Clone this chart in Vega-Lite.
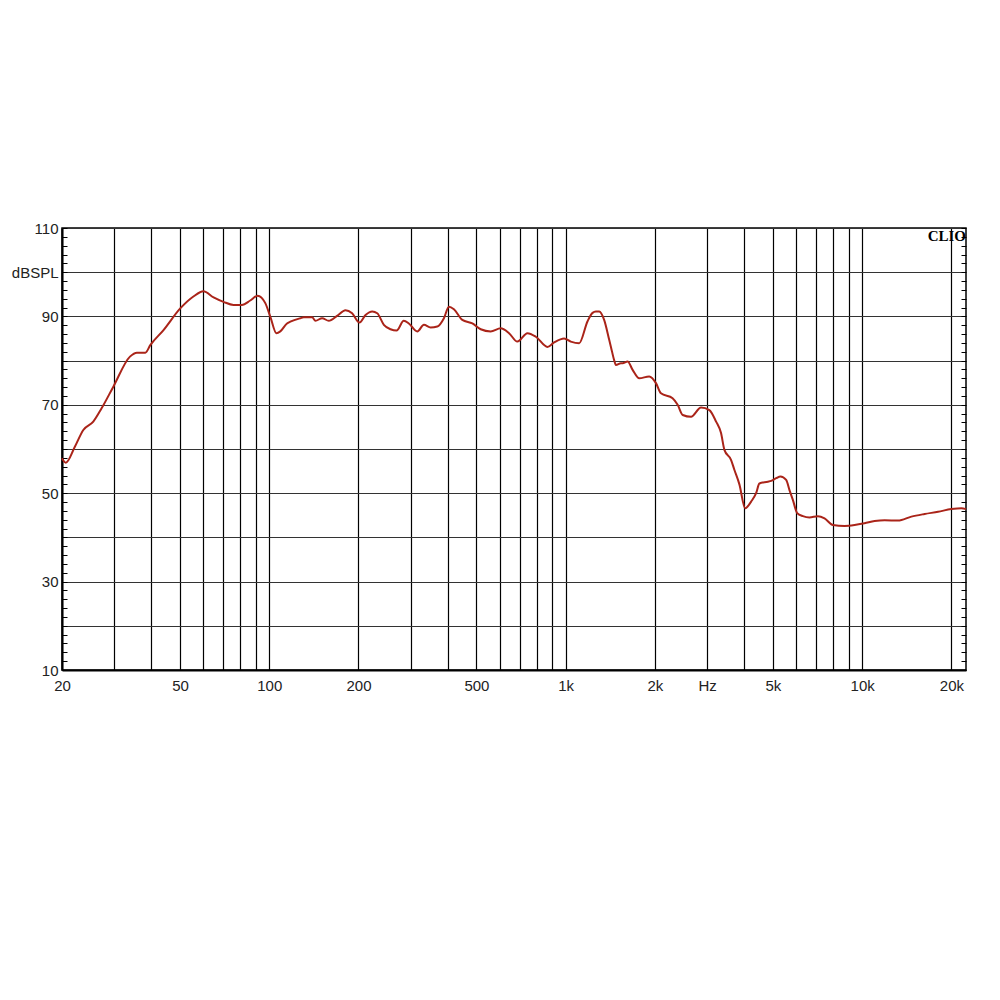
{
  "$schema": "https://vega.github.io/schema/vega-lite/v6.json",
  "width": 904,
  "height": 442,
  "autosize": {"type": "none"},
  "padding": {"left": 62, "top": 228, "right": 34, "bottom": 330},
  "background": "white",
  "config": {
    "view": {"stroke": "black", "strokeWidth": 1.5},
    "axis": {"labelFont": "Liberation Sans", "labelFontSize": 15, "labelColor": "#222"}
  },
  "layer": [
    {
      "data": {
        "values": [
          {"f": 20, "db": 57.9}, {"f": 20.6, "db": 56.9}, {"f": 22.1, "db": 60.5}, {"f": 23.6, "db": 64.3},
          {"f": 25.5, "db": 66.2}, {"f": 27.2, "db": 69.2}, {"f": 29.8, "db": 74.1}, {"f": 33.9, "db": 80.9},
          {"f": 35.8, "db": 81.8}, {"f": 38.2, "db": 81.8}, {"f": 39.7, "db": 83.5}, {"f": 44.0, "db": 86.9},
          {"f": 50.1, "db": 91.8}, {"f": 55.5, "db": 94.5}, {"f": 60.0, "db": 95.7}, {"f": 64.9, "db": 94.3},
          {"f": 70.1, "db": 93.3}, {"f": 75.8, "db": 92.6}, {"f": 80.9, "db": 92.6}, {"f": 86.3, "db": 93.6},
          {"f": 91.4, "db": 94.7}, {"f": 97.0, "db": 93.0}, {"f": 100.9, "db": 89.9}, {"f": 105.7, "db": 86.2},
          {"f": 109.0, "db": 86.6}, {"f": 114.8, "db": 88.4}, {"f": 117.8, "db": 88.8}, {"f": 127.4, "db": 89.6},
          {"f": 130.7, "db": 89.8}, {"f": 139.5, "db": 89.8}, {"f": 143.2, "db": 89.0}, {"f": 150.8, "db": 89.6},
          {"f": 158.8, "db": 89.0}, {"f": 169.4, "db": 90.1}, {"f": 180.8, "db": 91.4}, {"f": 190.4, "db": 90.7},
          {"f": 201.6, "db": 88.6}, {"f": 211.3, "db": 90.3}, {"f": 222.6, "db": 91.1}, {"f": 231.4, "db": 90.7},
          {"f": 243.6, "db": 88.1}, {"f": 256.6, "db": 87.1}, {"f": 268.8, "db": 86.8}, {"f": 284.4, "db": 89.0},
          {"f": 295.8, "db": 88.4}, {"f": 315.8, "db": 86.6}, {"f": 332.5, "db": 88.1}, {"f": 350.2, "db": 87.5},
          {"f": 369.0, "db": 87.7}, {"f": 388.4, "db": 89.6}, {"f": 403.8, "db": 92.2}, {"f": 419.8, "db": 91.6},
          {"f": 448.0, "db": 89.2}, {"f": 484.4, "db": 88.4}, {"f": 516.8, "db": 87.1}, {"f": 558.4, "db": 86.6},
          {"f": 603.6, "db": 87.3}, {"f": 644, "db": 86.2}, {"f": 687, "db": 84.3}, {"f": 743, "db": 86.2},
          {"f": 793, "db": 85.4}, {"f": 868, "db": 83.1}, {"f": 914, "db": 84.1}, {"f": 988, "db": 85.0},
          {"f": 1040, "db": 84.3}, {"f": 1110, "db": 83.9}, {"f": 1185, "db": 88.9}, {"f": 1232, "db": 90.8},
          {"f": 1264, "db": 91.1}, {"f": 1297, "db": 91.1}, {"f": 1348, "db": 89.2}, {"f": 1402, "db": 84.7},
          {"f": 1421, "db": 83.1}, {"f": 1457, "db": 80.1}, {"f": 1477, "db": 79.0}, {"f": 1535, "db": 79.4},
          {"f": 1556, "db": 79.4}, {"f": 1617, "db": 79.8}, {"f": 1682, "db": 77.9}, {"f": 1770, "db": 76.0},
          {"f": 1913, "db": 76.4}, {"f": 2016, "db": 74.9}, {"f": 2096, "db": 72.6}, {"f": 2294, "db": 71.5},
          {"f": 2386, "db": 70.0}, {"f": 2481, "db": 67.7}, {"f": 2647, "db": 67.3}, {"f": 2861, "db": 69.4},
          {"f": 3052, "db": 68.8}, {"f": 3216, "db": 66.2}, {"f": 3342, "db": 63.6}, {"f": 3430, "db": 59.8},
          {"f": 3614, "db": 57.5}, {"f": 3706, "db": 55.3}, {"f": 3854, "db": 52.0}, {"f": 4030, "db": 46.6},
          {"f": 4222, "db": 48.1}, {"f": 4388, "db": 50.0}, {"f": 4502, "db": 52.2}, {"f": 4806, "db": 52.6},
          {"f": 4932, "db": 52.8}, {"f": 5128, "db": 53.4}, {"f": 5300, "db": 53.8}, {"f": 5542, "db": 53.0},
          {"f": 5686, "db": 50.7}, {"f": 5838, "db": 48.5}, {"f": 6036, "db": 45.5}, {"f": 6310, "db": 44.8},
          {"f": 6642, "db": 44.5}, {"f": 7090, "db": 44.8}, {"f": 7466, "db": 44.3}, {"f": 7968, "db": 42.8},
          {"f": 8722, "db": 42.6}, {"f": 9428, "db": 42.8}, {"f": 10188, "db": 43.2}, {"f": 11014, "db": 43.7},
          {"f": 11906, "db": 43.9}, {"f": 13212, "db": 43.8}, {"f": 14652, "db": 44.7}, {"f": 16252, "db": 45.3},
          {"f": 18032, "db": 45.8}, {"f": 20000, "db": 46.4}, {"f": 21620, "db": 46.6}, {"f": 22400, "db": 46.4}
        ]
      },
      "mark": {"type": "line", "color": "#aa2419", "strokeWidth": 2, "interpolate": "monotone"},
      "encoding": {
        "x": {
          "field": "f", "type": "quantitative",
          "scale": {"type": "log", "domain": [20, 22400], "nice": false},
          "axis": {
            "title": null,
            "values": [20, 30, 40, 50, 60, 70, 80, 90, 100, 200, 300, 400, 500, 600, 700, 800, 900, 1000, 2000, 3000, 4000, 5000, 6000, 7000, 8000, 9000, 10000, 20000],
            "labelExpr": "datum.value===20?'20':datum.value===50?'50':datum.value===100?'100':datum.value===200?'200':datum.value===500?'500':datum.value===1000?'1k':datum.value===2000?'2k':datum.value===3000?'Hz':datum.value===5000?'5k':datum.value===10000?'10k':datum.value===20000?'20k':''",
            "ticks": false,
            "grid": true, "gridColor": "black", "gridWidth": 1.2, "gridOpacity": 1,
            "domainColor": "black", "domainWidth": 2,
            "labelPadding": 8, "labelFlush": false, "labelOverlap": false
          }
        },
        "y": {
          "field": "db", "type": "quantitative",
          "scale": {"domain": [10, 110], "nice": false, "zero": false},
          "axis": {
            "title": null,
            "values": [10, 12, 14, 16, 18, 20, 22, 24, 26, 28, 30, 32, 34, 36, 38, 40, 42, 44, 46, 48, 50, 52, 54, 56, 58, 60, 62, 64, 66, 68, 70, 72, 74, 76, 78, 80, 82, 84, 86, 88, 90, 92, 94, 96, 98, 100, 102, 104, 106, 108, 110],
            "labelExpr": "datum.value===100?'dBSPL':(datum.value%20===10?datum.label:'')",
            "tickSize": -5, "tickColor": "black", "tickWidth": 1,
            "grid": true, "gridColor": "#333", "gridWidth": 1.2,
            "gridOpacity": {"condition": {"test": "datum.value % 10 === 0", "value": 1}, "value": 0},
            "domainColor": "black", "domainWidth": 2,
            "labelPadding": 9, "labelOverlap": false
          }
        }
      }
    },
    {
      "data": {"values": [{"label": "CLIO"}]},
      "mark": {"type": "text", "font": "Liberation Serif", "fontWeight": "bold", "fontSize": 15, "align": "right", "baseline": "top", "dx": 0, "dy": 1, "color": "black"},
      "encoding": {
        "text": {"field": "label"},
        "x": {"datum": 22400, "type": "quantitative"},
        "y": {
          "datum": 110, "type": "quantitative",
          "axis": {
            "orient": "right", "title": null, "labels": false, "grid": false, "domain": false,
            "values": [10, 12, 14, 16, 18, 20, 22, 24, 26, 28, 30, 32, 34, 36, 38, 40, 42, 44, 46, 48, 50, 52, 54, 56, 58, 60, 62, 64, 66, 68, 70, 72, 74, 76, 78, 80, 82, 84, 86, 88, 90, 92, 94, 96, 98, 100, 102, 104, 106, 108, 110],
            "tickSize": -5, "tickColor": "black"
          }
        }
      }
    }
  ],
  "resolve": {"axis": {"y": "independent"}}
}
